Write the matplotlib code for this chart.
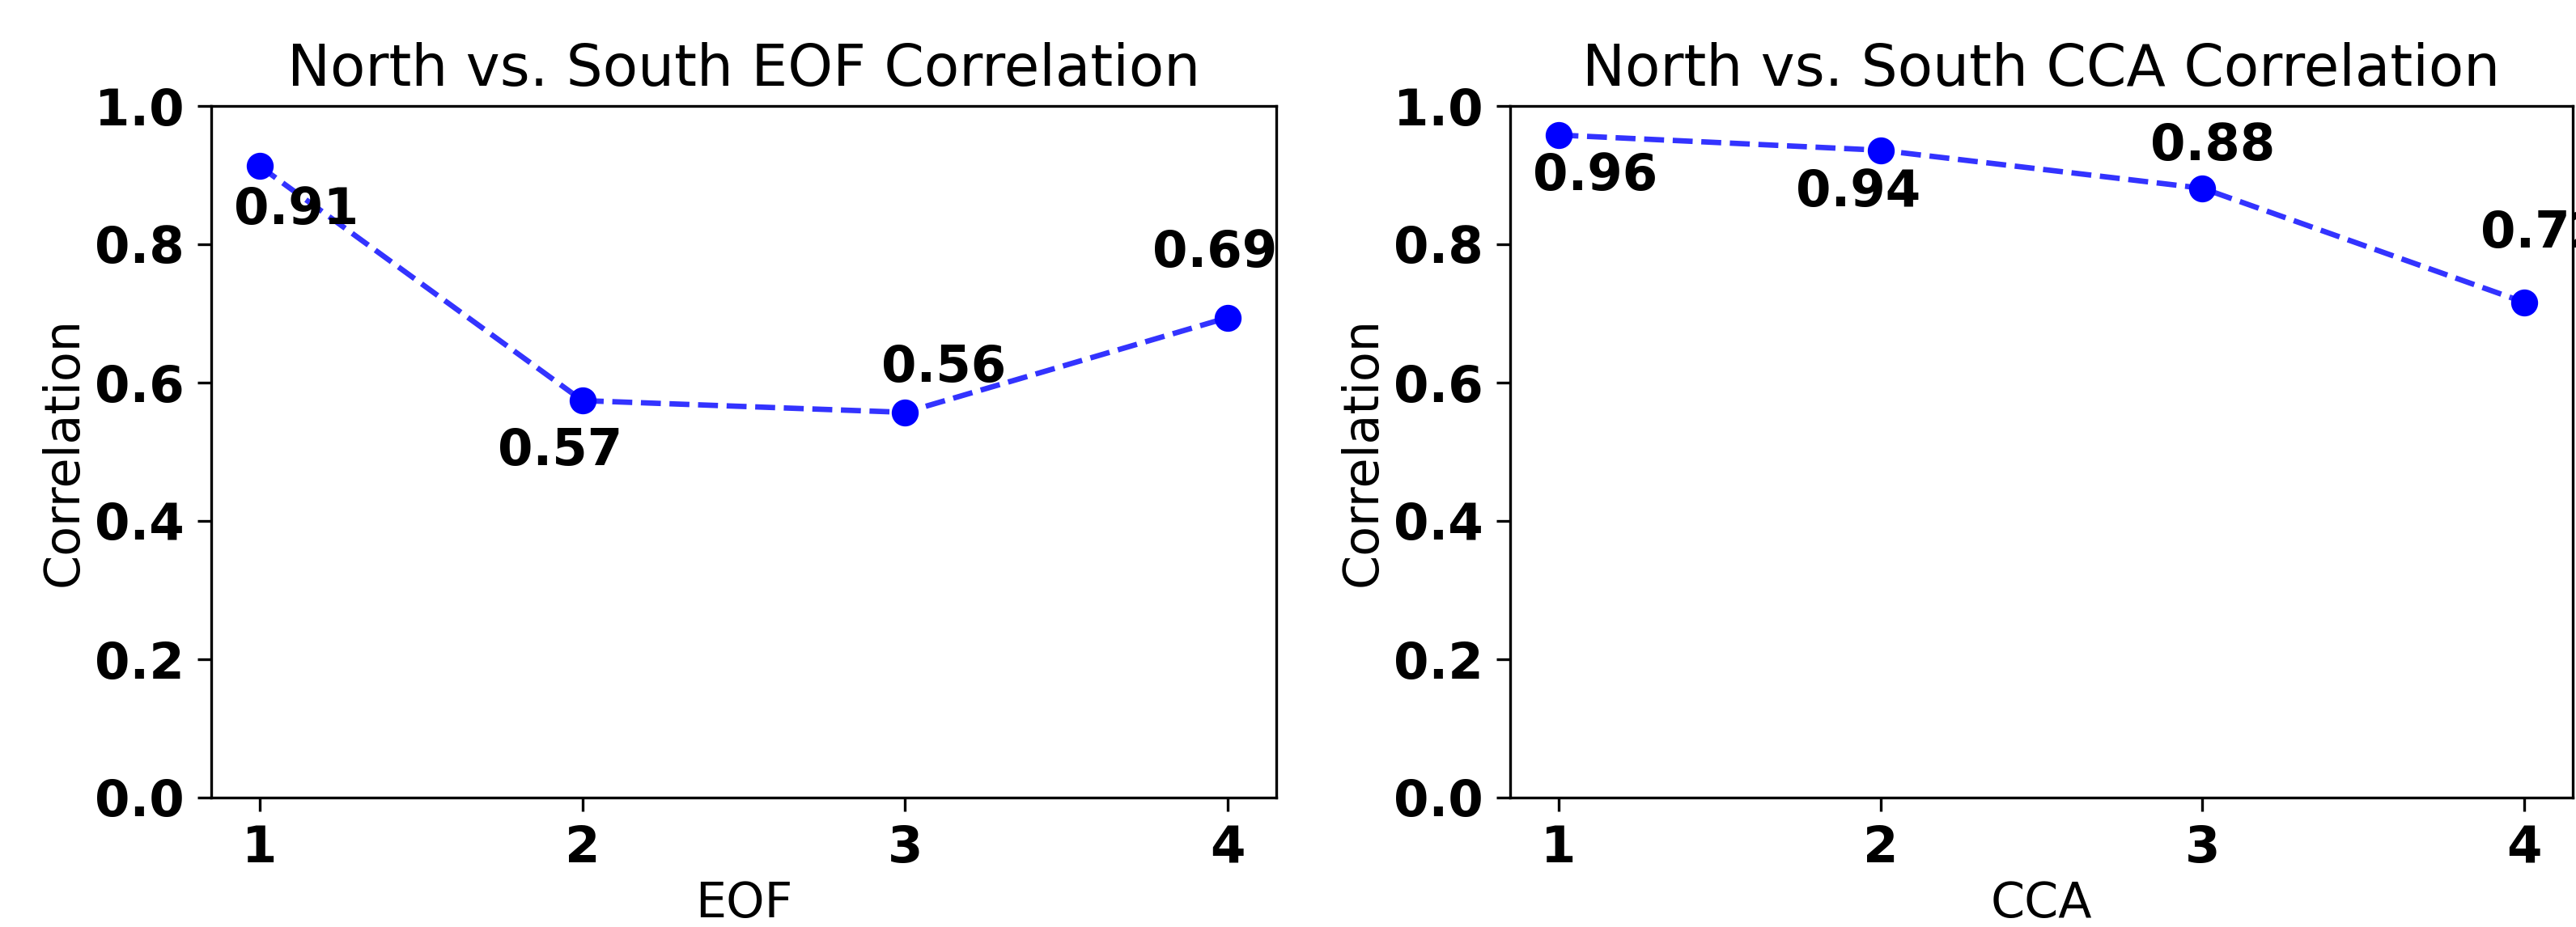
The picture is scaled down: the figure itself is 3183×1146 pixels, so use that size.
import matplotlib
matplotlib.use("Agg")
import matplotlib.pyplot as plt

# ---- data ----
components = [1, 2, 3, 4]
eof_corr = [0.913, 0.574, 0.557, 0.694]
cca_corr = [0.958, 0.936, 0.881, 0.716]
titles = ["North vs. South EOF Correlation", "North vs. South CCA Correlation"]
xlabels = ["EOF", "CCA"]
ylabel = "Correlation"
yticks = [0.0, 0.2, 0.4, 0.6, 0.8, 1.0]

# label offsets (points) for the value annotations
eof_offsets = [(10.8, -13.2), (-6.5, -15.0), (11.5, 13.2), (-3.8, 19.0)]
cca_offsets = [(11.0, -12.3), (-6.5, -12.5), (3.1, 12.3), (5.5, 20.4)]

DPI = 300
fig = plt.figure(figsize=(3183 / DPI, 1146 / DPI), dpi=DPI)
plt.rcParams['font.family'] = ['DejaVu Sans']

bottom = 1 - 986 / 1146
top = 1 - 131 / 1146
axes_boxes = [
    [261 / 3183, bottom, (1577 - 261) / 3183, top - bottom],
    [1866 / 3183, bottom, (3179 - 1866) / 3183, top - bottom],
]

for box, vals, offs, title, xl in zip(axes_boxes, [eof_corr, cca_corr],
                                      [eof_offsets, cca_offsets], titles, xlabels):
    ax = fig.add_axes(box)
    ax.plot(components, vals, '--', color='blue', lw=1.6, alpha=0.8)
    ax.plot(components, vals, 'o', color='blue', markersize=7)
    for xv, yv, off in zip(components, vals, offs):
        ax.annotate(f"{yv:.2f}", (xv, yv), xytext=off, textcoords='offset points',
                    ha='center', va='center', fontsize=15, fontweight='bold',
                    annotation_clip=False)
    ax.set_ylim(0, 1)
    ax.set_yticks(yticks)
    ax.set_xticks(components)
    ax.tick_params(axis='both', labelsize=15, length=4, pad=4)
    for lab in ax.get_xticklabels() + ax.get_yticklabels():
        lab.set_fontweight('bold')
    ax.set_title(title, fontsize=17, pad=6)
    ax.set_xlabel(xl, fontsize=14.5, labelpad=2)
    ax.set_ylabel(ylabel, fontsize=14.5, labelpad=2)

fig.savefig("out.png", dpi=DPI)
